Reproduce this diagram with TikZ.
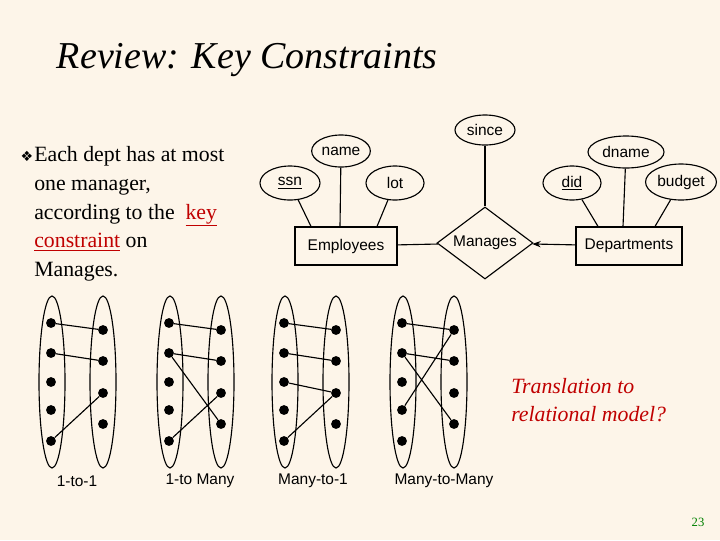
\documentclass[tikz,border=0pt]{standalone}
\usepackage{fontspec}
\setmainfont{Liberation Serif}
\setsansfont{Liberation Sans}
\newfontfamily\symfont{DejaVu Sans}
\usepackage{tikz}
\usetikzlibrary{shapes.geometric, arrows.meta, positioning}
\definecolor{paper}{HTML}{FDF5E9}
\definecolor{keyred}{HTML}{C00000}
\definecolor{pagegreen}{HTML}{008000}
\tikzset{
	attr/.style={draw, ellipse, thick, inner sep=1pt, font=\sffamily\fontsize{11}{12}\selectfont},
	entity/.style={draw, rectangle, thick, minimum height=0.95cm, font=\sffamily\fontsize{11}{12}\selectfont},
	rel/.style={draw, diamond, thick, aspect=1.35, inner sep=0pt, minimum width=2.4cm, minimum height=1.8cm, font=\sffamily\fontsize{11}{12}\selectfont},
	set/.style={draw, ellipse, thick, minimum width=0.65cm, minimum height=4.3cm},
	elem/.style={circle, fill=black, inner sep=0pt, minimum size=7pt},
	maplabel/.style={font=\sffamily\fontsize{11}{12}\selectfont}
}
\begin{document}
\begin{tikzpicture}[x=0.025cm, y=-0.025cm]
	\fill[paper] (0,0) rectangle (720,540);
	\useasboundingbox (0,0) rectangle (720,540);
	
	\node[anchor=west, font=\itshape\fontsize{27}{30}\selectfont] (title) at (52,60) {Review: Key Constraints};
	
	\node[font=\symfont\fontsize{10}{12}\selectfont, inner sep=0pt] (bullet) at (27,156) {❖};
	\node[anchor=north west, align=left, inner sep=0pt, font=\fontsize{15.5}{20.5}\selectfont] (text) at (34,146)
		{Each dept has at most\\ one manager,\\ according to the \ \textcolor{keyred}{\underline{key}}\\ \textcolor{keyred}{\underline{constraint}} on\\ Manages.};
	
	% ER diagram
	\node[entity, minimum width=2.55cm] (emp) at (346,246) {Employees};
	\node[rel] (man) at (485,243) {Manages};
	\node[entity, minimum width=2.65cm] (dep) at (629,246) {Departments};
	
	\node[attr, minimum width=1.5cm, minimum height=0.85cm] (ssn) at (290,183) {\underline{ssn}};
	\node[attr, minimum width=1.3cm, minimum height=0.8cm] (name) at (341,151) {name};
	\node[attr, minimum width=1.45cm, minimum height=0.85cm] (lot) at (395,183) {lot};
	\node[attr, minimum width=1.5cm, minimum height=0.75cm] (since) at (485,130) {since};
	\node[attr, minimum width=1.45cm, minimum height=0.85cm] (did) at (572,183) {\underline{did}};
	\node[attr, minimum width=1.9cm, minimum height=0.8cm] (dname) at (626,152) {dname};
	\node[attr, minimum width=1.7cm, minimum height=0.9cm] (budget) at (681,182) {budget};
	
	\draw[thick] (ssn) -- (emp.north west -| 311,0);
	\draw[thick] (name) -- (emp.north -| 340,0);
	\draw[thick] (lot) -- (emp.north -| 377,0);
	\draw[thick] (since) -- (man.north);
	\draw[thick] (did) -- (dep.north -| 598,0);
	\draw[thick] (dname) -- (dep.north -| 623,0);
	\draw[thick] (budget) -- (dep.north -| 655,0);
	\draw[thick] (emp) -- (man);
	\draw[thick, -{Stealth[length=6pt]}] (dep) -- (man);
	
	% mapping pictures
	\foreach \k/\dx in {a/0, b/118, c/233, d/351} {
		\node[set] (L\k) at (52+\dx,382) {};
		\node[set] (R\k) at (103+\dx,382) {};
		\foreach \i/\y in {1/323, 2/353, 3/382, 4/410, 5/441}
			\node[elem] (L\k\i) at (51+\dx,\y) {};
		\foreach \i/\y in {1/330, 2/361, 3/393, 4/424}
			\node[elem] (R\k\i) at (103+\dx,\y) {};
	}
	\draw[thick] (La1) -- (Ra1) (La2) -- (Ra2) (La5) -- (Ra3);
	\draw[thick] (Lb1) -- (Rb1) (Lb2) -- (Rb2) (Lb2) -- (Rb4) (Lb5) -- (Rb3);
	\draw[thick] (Lc1) -- (Rc1) (Lc2) -- (Rc2) (Lc3) -- (Rc3) (Lc5) -- (Rc3);
	\draw[thick] (Ld1) -- (Rd1) (Ld2) -- (Rd2) (Ld2) -- (Rd4) (Ld4) -- (Rd1);
	
	\node[maplabel] (one1) at (77,481) {1-to-1};
	\node[maplabel] (onem) at (200,481) {1-to Many};
	\node[maplabel] (many1) at (313,481) {Many-to-1};
	\node[maplabel] (manym) at (444,481) {Many-to-Many};
	
	\node[anchor=north west, align=left, inner sep=0pt, text=keyred, font=\itshape\fontsize{15.5}{20}\selectfont] (trans) at (511,378) {Translation to\\ relational model?};
	\node[text=pagegreen, font=\fontsize{9}{10}\selectfont] (page) at (698,522) {23};
\end{tikzpicture}
\end{document}
